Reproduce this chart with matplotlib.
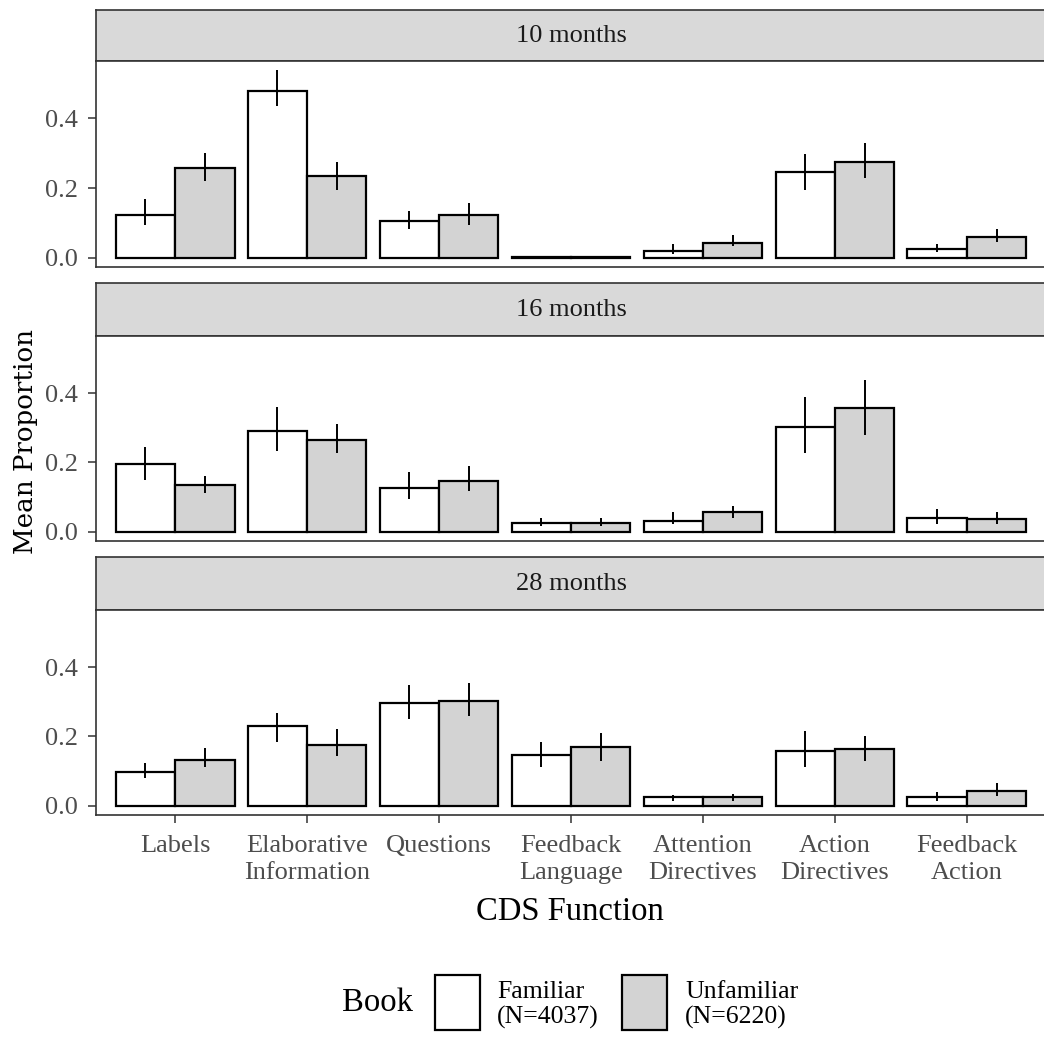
import numpy as np
import matplotlib.pyplot as plt

#################
# data
categories = ['Labels', 'Elaborative\nInformation', 'Questions', 'Feedback\nLanguage',
              'Attention\nDirectives', 'Action\nDirectives', 'Feedback\nAction']
ages = ['10 months', '16 months', '28 months']

fam_mean = [[0.122, 0.480, 0.104, 0.001, 0.019, 0.245, 0.025],
            [0.196, 0.292, 0.127, 0.025, 0.031, 0.303, 0.038],
            [0.097, 0.230, 0.297, 0.145, 0.024, 0.158, 0.024]]
fam_lo = [[0.095, 0.435, 0.083, 0.000, 0.009, 0.193, 0.015],
          [0.148, 0.233, 0.094, 0.017, 0.021, 0.226, 0.021],
          [0.081, 0.185, 0.251, 0.112, 0.014, 0.112, 0.014]]
fam_hi = [[0.168, 0.538, 0.133, 0.004, 0.040, 0.298, 0.040],
          [0.245, 0.360, 0.172, 0.040, 0.056, 0.390, 0.064],
          [0.123, 0.268, 0.349, 0.183, 0.031, 0.215, 0.038]]

unf_mean = [[0.258, 0.234, 0.123, 0.001, 0.043, 0.276, 0.060],
            [0.134, 0.266, 0.146, 0.025, 0.056, 0.358, 0.037],
            [0.133, 0.175, 0.301, 0.169, 0.024, 0.164, 0.041]]
unf_lo = [[0.219, 0.193, 0.095, 0.000, 0.032, 0.230, 0.044],
          [0.113, 0.226, 0.118, 0.017, 0.040, 0.280, 0.022],
          [0.112, 0.142, 0.258, 0.130, 0.014, 0.130, 0.027]]
unf_hi = [[0.302, 0.274, 0.158, 0.004, 0.066, 0.328, 0.083],
          [0.160, 0.311, 0.191, 0.040, 0.075, 0.438, 0.058],
          [0.166, 0.220, 0.355, 0.209, 0.035, 0.202, 0.064]]

yticks = [0.0, 0.2, 0.4]
ytick_labels = ['0.0', '0.2', '0.4']
#################

plt.rcParams['font.family'] = 'Liberation Serif'

W, H = 1044, 1037
fig = plt.figure(figsize=(W / 100, H / 100), dpi=100)

def fx(px):
    return px / W

def fy(py):
    return 1 - py / H

edge = '#333333'
fill_u = '#D3D3D3'
x = np.arange(1, len(categories) + 1)
bw = 0.45

# (strip top, strip bottom, axes bottom) in pixels
panels = [(10, 61, 267), (283, 336, 541), (557, 610, 815)]
left, right = 96, 1046

for i, (st, sb, ab) in enumerate(panels):
    # strip
    sax = fig.add_axes([fx(left), fy(sb), fx(right - left), (sb - st) / H])
    sax.set_facecolor('#D9D9D9')
    sax.set_xticks([])
    sax.set_yticks([])
    for s in sax.spines.values():
        s.set_color(edge)
        s.set_linewidth(1.2)
    sax.text(0.5, 0.5, ages[i], ha='center', va='center', fontsize=19,
             color='#1A1A1A', transform=sax.transAxes)

    ax = fig.add_axes([fx(left), fy(ab), fx(right - left), (ab - sb) / H])
    ax.bar(x - bw / 2, fam_mean[i], width=bw, color='white', edgecolor='black',
           linewidth=1.6, zorder=2)
    ax.bar(x + bw / 2, unf_mean[i], width=bw, color=fill_u, edgecolor='black',
           linewidth=1.6, zorder=2)
    ax.vlines(x - bw / 2, fam_lo[i], fam_hi[i], color='black', linewidth=1.4, zorder=3)
    ax.vlines(x + bw / 2, unf_lo[i], unf_hi[i], color='black', linewidth=1.4, zorder=3)

    ax.set_xlim(0.4, 7.6)
    ax.set_ylim(-0.027, 0.565)
    ax.set_yticks(yticks)
    ax.set_yticklabels(ytick_labels)
    ax.tick_params(axis='y', labelsize=19, colors='#333333', length=5.5, width=1.1,
                   pad=7.5, labelcolor='#4D4D4D')
    for s in ax.spines.values():
        s.set_color(edge)
        s.set_linewidth(1.2)
    if i < 2:
        ax.set_xticks([])
    else:
        ax.set_xticks(x)
        ax.set_xticklabels(categories, linespacing=1.3)
        ax.tick_params(axis='x', labelsize=19, colors='#333333', length=5.5, width=1.1,
                       pad=9, labelcolor='#4D4D4D')

fig.text(fx(570), fy(912), 'CDS Function', ha='center', va='center', fontsize=23.5)
fig.text(fx(26), fy(441), 'Mean Proportion', rotation=90, ha='center', va='center',
         fontsize=18.8, family='DejaVu Serif')

# legend
fig.text(fx(413), fy(1003), 'Book', ha='right', va='center', fontsize=23.5)
fig.patches.append(plt.Rectangle((fx(435), fy(1030)), fx(45), 55 / H,
                                 transform=fig.transFigure, facecolor='white',
                                 edgecolor='black', linewidth=1.6))
fig.text(fx(497), fy(1005), 'Familiar\n(N=4037)', ha='left', va='center',
         fontsize=18.5, linespacing=1.15)
fig.patches.append(plt.Rectangle((fx(622), fy(1030)), fx(45), 55 / H,
                                 transform=fig.transFigure, facecolor=fill_u,
                                 edgecolor='black', linewidth=1.6))
fig.text(fx(685), fy(1005), 'Unfamiliar\n(N=6220)', ha='left', va='center',
         fontsize=18.5, linespacing=1.15)

plt.savefig('out.png', dpi=100)
